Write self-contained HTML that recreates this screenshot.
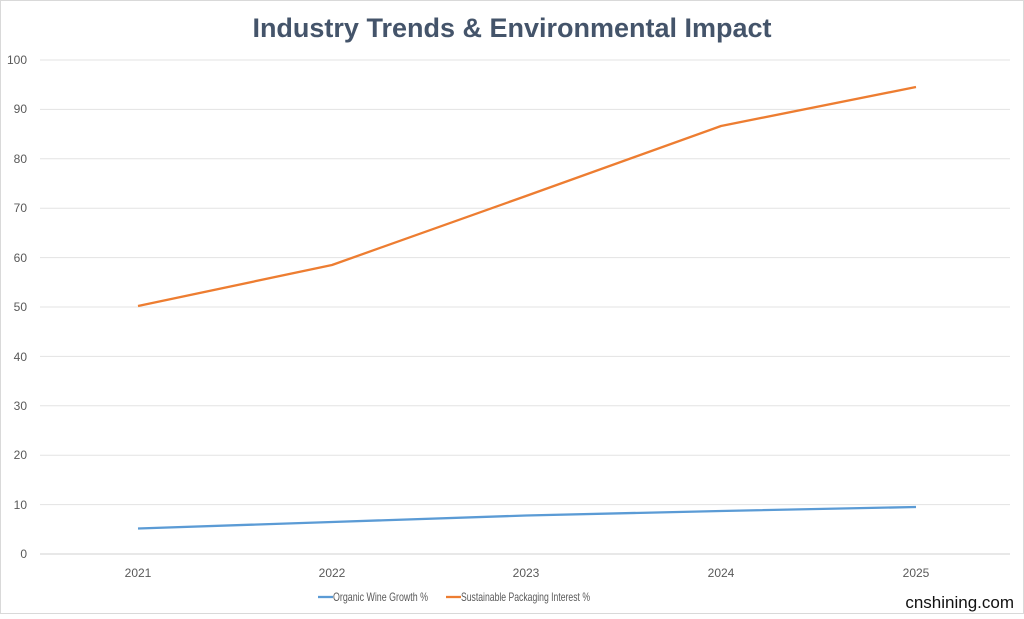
<!DOCTYPE html>
<html><head><style>html,body{margin:0;padding:0;background:#fff}</style></head>
<body>
<svg width="1024" height="614" xmlns="http://www.w3.org/2000/svg" font-family="Liberation Sans, sans-serif">
<rect x="0.5" y="0.5" width="1023" height="613" fill="#fff" stroke="#d9d9d9"/>
<text x="512" y="37" text-anchor="middle" font-size="27" font-weight="bold" fill="#44546a">Industry Trends &amp; Environmental Impact</text>
<g stroke="#e3e3e3" stroke-width="1">
<line x1="40" x2="1010" y1="60" y2="60"/><line x1="40" x2="1010" y1="109.4" y2="109.4"/>
<line x1="40" x2="1010" y1="158.8" y2="158.8"/><line x1="40" x2="1010" y1="208.2" y2="208.2"/>
<line x1="40" x2="1010" y1="257.6" y2="257.6"/><line x1="40" x2="1010" y1="307" y2="307"/>
<line x1="40" x2="1010" y1="356.4" y2="356.4"/><line x1="40" x2="1010" y1="405.8" y2="405.8"/>
<line x1="40" x2="1010" y1="455.2" y2="455.2"/><line x1="40" x2="1010" y1="504.6" y2="504.6"/>
<line x1="40" x2="1010" y1="554" y2="554" stroke="#d0d0d0"/>
</g>
<g font-size="12" fill="#595959" text-anchor="end">
<text x="27" y="64">100</text><text x="27" y="113">90</text><text x="27" y="163">80</text>
<text x="27" y="212">70</text><text x="27" y="262">60</text><text x="27" y="311">50</text>
<text x="27" y="361">40</text><text x="27" y="410">30</text><text x="27" y="459">20</text>
<text x="27" y="509">10</text><text x="27" y="558">0</text>
</g>
<g font-size="12" fill="#595959" text-anchor="middle">
<text x="138" y="577">2021</text><text x="332" y="577">2022</text><text x="526" y="577">2023</text>
<text x="721" y="577">2024</text><text x="916" y="577">2025</text>
</g>
<polyline points="138,306 332,265 526,196 721,126 916,87" fill="none" stroke="#ed7d31" stroke-width="2.3" stroke-linejoin="round"/>
<polyline points="138,528.5 332,522 526,515.5 721,511 916,507" fill="none" stroke="#5b9bd5" stroke-width="2.3" stroke-linejoin="round"/>
<line x1="318" x2="333" y1="597" y2="597" stroke="#5b9bd5" stroke-width="2.3"/>
<text x="333" y="601" font-size="12" fill="#595959" textLength="95" lengthAdjust="spacingAndGlyphs">Organic Wine Growth %</text>
<line x1="446" x2="461" y1="597" y2="597" stroke="#ed7d31" stroke-width="2.3"/>
<text x="461" y="601" font-size="12" fill="#595959" textLength="129" lengthAdjust="spacingAndGlyphs">Sustainable Packaging Interest %</text>
<text x="1014" y="608" font-size="17" fill="#111" text-anchor="end">cnshining.com</text>
</svg>
</body></html>
